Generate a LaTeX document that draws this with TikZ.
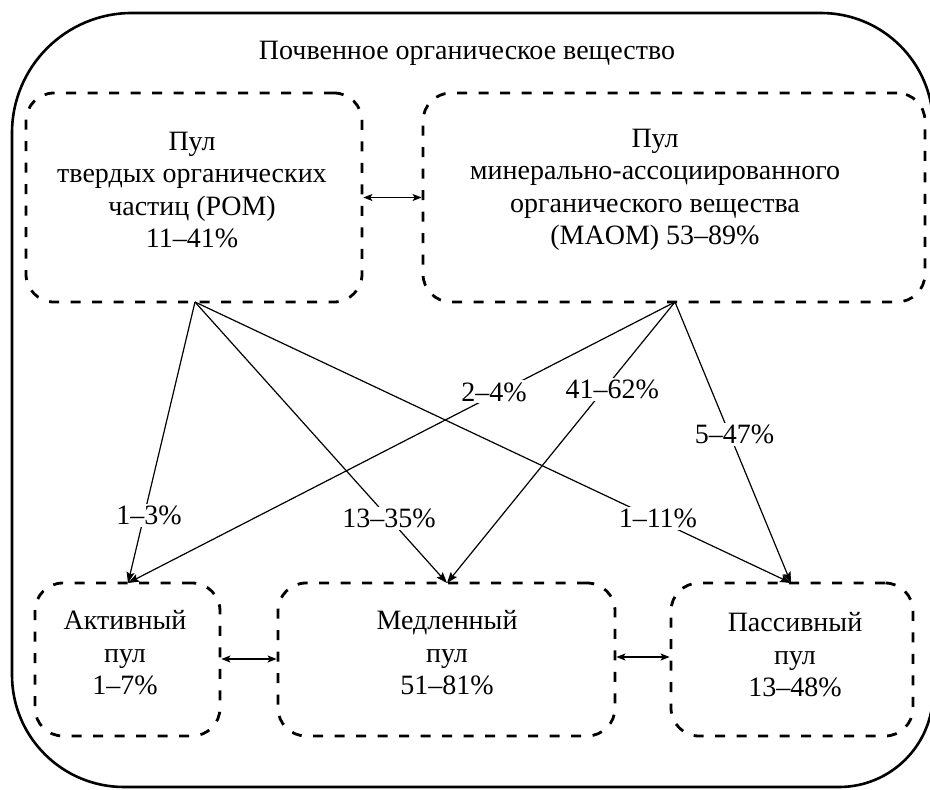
\documentclass[tikz,border=0pt]{standalone}
\usepackage{fontspec}
\setmainfont{Liberation Serif}
\usetikzlibrary{arrows.meta}
\begin{document}
\begin{tikzpicture}[x=1pt,y=-1pt,
  outerbox/.style={line width=2.6pt,line join=round},
  poolbox/.style={draw,line width=2.8pt,dash pattern=on 10pt off 11.5pt,rounded corners=28pt,inner sep=0pt},
  txt/.style={font=\fontsize{28}{32.5}\selectfont,align=center,inner sep=0pt},
  flow/.style={line width=1.2pt,-{Stealth[length=11pt,width=8pt,inset=2pt]}},
  swap/.style={line width=1.2pt,{Stealth[length=9pt,width=7pt,inset=2pt]}-{Stealth[length=9pt,width=7pt,inset=2pt]}},
  pct/.style={font=\fontsize{28}{30}\selectfont,fill=white,inner sep=2pt}]
\useasboundingbox (0,0) rectangle (930,790);
% outer rounded frame
\draw[outerbox] (12,133) .. controls (12,66.7) and (65.7,13) .. (132,13)
  -- (821,13) .. controls (882.9,13) and (933,63.1) .. (933,125)
  -- (933,693) .. controls (933,744.9) and (890.9,787) .. (839,787)
  -- (124,787) .. controls (62.1,787) and (12,736.9) .. (12,675) -- cycle;
\node[txt] (title) at (467,53) {Почвенное органическое вещество};
% pool boxes
\node[poolbox,minimum width=336pt,minimum height=209pt] (pom) at (194,197.5) {};
\node[poolbox,minimum width=502pt,minimum height=209pt] (maom) at (674,197.5) {};
\node[poolbox,minimum width=185pt,minimum height=153pt] (act) at (127.5,659.5) {};
\node[poolbox,minimum width=337pt,minimum height=153pt] (slow) at (446.5,659.5) {};
\node[poolbox,minimum width=242pt,minimum height=153pt] (pas) at (792,659.5) {};
% texts
\node[txt] (pomtext) at (192,190) {Пул\\твердых органических\\частиц (POM)\\11–41\%};
\node[txt] (maomtext) at (655,190) {Пул\\минерально-ассоциированного\\органического вещества\\(MAOM) 53–89\%};
\node[txt] (acttext) at (125,653) {Активный\\пул\\1–7\%};
\node[txt] (slowtext) at (447,653) {Медленный\\пул\\51–81\%};
\node[txt] (pastext) at (795,655) {Пассивный\\пул\\13–48\%};
% connection points
\coordinate (pomB) at (195,302);
\coordinate (maomB) at (675,302);
\coordinate (actT) at (128,583);
\coordinate (slowT) at (447,583);
\coordinate (pasT) at (791,583);
% exchange arrows
\draw[swap] (pom.east) -- (maom.west);
\draw[swap] (act.east |- 0,659) -- (slow.west |- 0,659);
\draw[swap] (slow.east |- 0,657) -- (pas.west |- 0,657);
% flows from POM
\draw[flow] (pomB) -- node[pct,pos=0.76,xshift=5pt] (l1) {1–3\%} (actT);
\draw[flow] (pomB) -- node[pct,pos=0.77] (l2) {13–35\%} (slowT);
\draw[flow] (pomB) -- node[pct,pos=0.77,xshift=4pt] (l3) {1–11\%} (pasT);
% flows from MAOM
\draw[flow] (maomB) -- node[pct,pos=0.32,xshift=-6pt] (l4) {2–4\%} (actT);
\draw[flow] (maomB) -- node[pct,pos=0.31,xshift=8pt] (l5) {41–62\%} (slowT);
\draw[flow] (maomB) -- node[pct,pos=0.47,xshift=5pt] (l6) {5–47\%} (pasT);
\end{tikzpicture}
\end{document}
